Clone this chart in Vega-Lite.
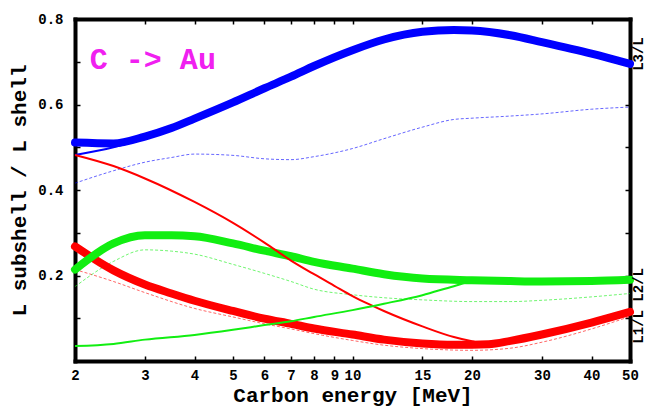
{
  "$schema": "https://vega.github.io/schema/vega-lite/v6.json",
  "width": 555,
  "height": 342,
  "autosize": {"type": "none"},
  "padding": {"left": 75, "top": 19, "right": 18, "bottom": 46},
  "background": "white",
  "view": {"stroke": null},
  "config": {
    "font": "Liberation Mono",
    "axis": {
      "labelFont": "Liberation Mono", "labelFontWeight": "bold", "labelFontSize": 14, "labelColor": "black",
      "titleFont": "Liberation Mono", "titleFontWeight": "bold", "titleFontSize": 21, "titleColor": "black",
      "domain": true, "domainColor": "black", "domainWidth": 4, "domainCap": "square",
      "grid": false, "tickColor": "black", "tickSize": -5, "tickWidth": 1.5
    }
  },
  "datasets": {
    "curves": [
      {"shell": "L3", "model": "A", "energy": 2, "ratio": 0.511},
      {"shell": "L3", "model": "A", "energy": 2.5, "ratio": 0.509},
      {"shell": "L3", "model": "A", "energy": 3, "ratio": 0.525},
      {"shell": "L3", "model": "A", "energy": 3.5, "ratio": 0.545},
      {"shell": "L3", "model": "A", "energy": 4, "ratio": 0.567},
      {"shell": "L3", "model": "A", "energy": 5, "ratio": 0.605},
      {"shell": "L3", "model": "A", "energy": 6, "ratio": 0.638},
      {"shell": "L3", "model": "A", "energy": 7, "ratio": 0.665},
      {"shell": "L3", "model": "A", "energy": 8, "ratio": 0.690},
      {"shell": "L3", "model": "A", "energy": 10, "ratio": 0.727},
      {"shell": "L3", "model": "A", "energy": 12, "ratio": 0.752},
      {"shell": "L3", "model": "A", "energy": 15, "ratio": 0.770},
      {"shell": "L3", "model": "A", "energy": 18, "ratio": 0.774},
      {"shell": "L3", "model": "A", "energy": 20, "ratio": 0.773},
      {"shell": "L3", "model": "A", "energy": 25, "ratio": 0.762},
      {"shell": "L3", "model": "A", "energy": 30, "ratio": 0.746},
      {"shell": "L3", "model": "A", "energy": 40, "ratio": 0.719},
      {"shell": "L3", "model": "A", "energy": 50, "ratio": 0.695},

      {"shell": "L3", "model": "B", "energy": 2, "ratio": 0.482},
      {"shell": "L3", "model": "B", "energy": 2.5, "ratio": 0.500},
      {"shell": "L3", "model": "B", "energy": 3, "ratio": 0.521},
      {"shell": "L3", "model": "B", "energy": 4, "ratio": 0.565},
      {"shell": "L3", "model": "B", "energy": 5, "ratio": 0.603},
      {"shell": "L3", "model": "B", "energy": 6, "ratio": 0.636},
      {"shell": "L3", "model": "B", "energy": 7, "ratio": 0.663},
      {"shell": "L3", "model": "B", "energy": 8, "ratio": 0.688},
      {"shell": "L3", "model": "B", "energy": 10, "ratio": 0.725},
      {"shell": "L3", "model": "B", "energy": 12, "ratio": 0.750},
      {"shell": "L3", "model": "B", "energy": 15, "ratio": 0.768},
      {"shell": "L3", "model": "B", "energy": 18, "ratio": 0.772},
      {"shell": "L3", "model": "B", "energy": 20, "ratio": 0.771},
      {"shell": "L3", "model": "B", "energy": 25, "ratio": 0.759},
      {"shell": "L3", "model": "B", "energy": 30, "ratio": 0.741},
      {"shell": "L3", "model": "B", "energy": 40, "ratio": 0.716},
      {"shell": "L3", "model": "B", "energy": 50, "ratio": 0.693},

      {"shell": "L3", "model": "C", "energy": 2, "ratio": 0.416},
      {"shell": "L3", "model": "C", "energy": 2.5, "ratio": 0.445},
      {"shell": "L3", "model": "C", "energy": 3, "ratio": 0.465},
      {"shell": "L3", "model": "C", "energy": 3.5, "ratio": 0.476},
      {"shell": "L3", "model": "C", "energy": 4, "ratio": 0.484},
      {"shell": "L3", "model": "C", "energy": 5, "ratio": 0.481},
      {"shell": "L3", "model": "C", "energy": 6, "ratio": 0.473},
      {"shell": "L3", "model": "C", "energy": 7, "ratio": 0.471},
      {"shell": "L3", "model": "C", "energy": 8, "ratio": 0.478},
      {"shell": "L3", "model": "C", "energy": 10, "ratio": 0.497},
      {"shell": "L3", "model": "C", "energy": 12, "ratio": 0.520},
      {"shell": "L3", "model": "C", "energy": 15, "ratio": 0.547},
      {"shell": "L3", "model": "C", "energy": 18, "ratio": 0.565},
      {"shell": "L3", "model": "C", "energy": 20, "ratio": 0.568},
      {"shell": "L3", "model": "C", "energy": 25, "ratio": 0.573},
      {"shell": "L3", "model": "C", "energy": 30, "ratio": 0.578},
      {"shell": "L3", "model": "C", "energy": 40, "ratio": 0.589},
      {"shell": "L3", "model": "C", "energy": 50, "ratio": 0.594},

      {"shell": "L1", "model": "A", "energy": 2, "ratio": 0.268},
      {"shell": "L1", "model": "A", "energy": 2.5, "ratio": 0.212},
      {"shell": "L1", "model": "A", "energy": 3, "ratio": 0.179},
      {"shell": "L1", "model": "A", "energy": 3.5, "ratio": 0.158},
      {"shell": "L1", "model": "A", "energy": 4, "ratio": 0.141},
      {"shell": "L1", "model": "A", "energy": 5, "ratio": 0.117},
      {"shell": "L1", "model": "A", "energy": 6, "ratio": 0.099},
      {"shell": "L1", "model": "A", "energy": 7, "ratio": 0.087},
      {"shell": "L1", "model": "A", "energy": 8, "ratio": 0.076},
      {"shell": "L1", "model": "A", "energy": 10, "ratio": 0.062},
      {"shell": "L1", "model": "A", "energy": 12, "ratio": 0.050},
      {"shell": "L1", "model": "A", "energy": 15, "ratio": 0.041},
      {"shell": "L1", "model": "A", "energy": 18, "ratio": 0.038},
      {"shell": "L1", "model": "A", "energy": 20, "ratio": 0.038},
      {"shell": "L1", "model": "A", "energy": 22, "ratio": 0.039},
      {"shell": "L1", "model": "A", "energy": 25, "ratio": 0.047},
      {"shell": "L1", "model": "A", "energy": 30, "ratio": 0.062},
      {"shell": "L1", "model": "A", "energy": 40, "ratio": 0.090},
      {"shell": "L1", "model": "A", "energy": 50, "ratio": 0.115},

      {"shell": "L1", "model": "B", "energy": 2, "ratio": 0.482},
      {"shell": "L1", "model": "B", "energy": 2.5, "ratio": 0.456},
      {"shell": "L1", "model": "B", "energy": 3, "ratio": 0.427},
      {"shell": "L1", "model": "B", "energy": 4, "ratio": 0.372},
      {"shell": "L1", "model": "B", "energy": 5, "ratio": 0.323},
      {"shell": "L1", "model": "B", "energy": 6, "ratio": 0.277},
      {"shell": "L1", "model": "B", "energy": 7, "ratio": 0.235},
      {"shell": "L1", "model": "B", "energy": 8, "ratio": 0.203},
      {"shell": "L1", "model": "B", "energy": 9, "ratio": 0.176},
      {"shell": "L1", "model": "B", "energy": 10, "ratio": 0.152},
      {"shell": "L1", "model": "B", "energy": 11, "ratio": 0.133},
      {"shell": "L1", "model": "B", "energy": 12, "ratio": 0.117},
      {"shell": "L1", "model": "B", "energy": 15, "ratio": 0.081},
      {"shell": "L1", "model": "B", "energy": 18, "ratio": 0.056},
      {"shell": "L1", "model": "B", "energy": 20, "ratio": 0.046},
      {"shell": "L1", "model": "B", "energy": 22, "ratio": 0.040},
      {"shell": "L1", "model": "B", "energy": 25, "ratio": 0.046},
      {"shell": "L1", "model": "B", "energy": 30, "ratio": 0.061},
      {"shell": "L1", "model": "B", "energy": 40, "ratio": 0.089},
      {"shell": "L1", "model": "B", "energy": 50, "ratio": 0.114},

      {"shell": "L1", "model": "C", "energy": 2, "ratio": 0.214},
      {"shell": "L1", "model": "C", "energy": 2.5, "ratio": 0.186},
      {"shell": "L1", "model": "C", "energy": 3, "ratio": 0.160},
      {"shell": "L1", "model": "C", "energy": 4, "ratio": 0.123},
      {"shell": "L1", "model": "C", "energy": 5, "ratio": 0.103},
      {"shell": "L1", "model": "C", "energy": 6, "ratio": 0.087},
      {"shell": "L1", "model": "C", "energy": 7, "ratio": 0.075},
      {"shell": "L1", "model": "C", "energy": 8, "ratio": 0.064},
      {"shell": "L1", "model": "C", "energy": 10, "ratio": 0.048},
      {"shell": "L1", "model": "C", "energy": 12, "ratio": 0.037},
      {"shell": "L1", "model": "C", "energy": 15, "ratio": 0.029},
      {"shell": "L1", "model": "C", "energy": 20, "ratio": 0.025},
      {"shell": "L1", "model": "C", "energy": 25, "ratio": 0.030},
      {"shell": "L1", "model": "C", "energy": 30, "ratio": 0.044},
      {"shell": "L1", "model": "C", "energy": 40, "ratio": 0.075},
      {"shell": "L1", "model": "C", "energy": 50, "ratio": 0.104},

      {"shell": "L2", "model": "A", "energy": 2, "ratio": 0.214},
      {"shell": "L2", "model": "A", "energy": 2.5, "ratio": 0.275},
      {"shell": "L2", "model": "A", "energy": 3, "ratio": 0.294},
      {"shell": "L2", "model": "A", "energy": 3.5, "ratio": 0.294},
      {"shell": "L2", "model": "A", "energy": 4, "ratio": 0.292},
      {"shell": "L2", "model": "A", "energy": 5, "ratio": 0.275},
      {"shell": "L2", "model": "A", "energy": 6, "ratio": 0.258},
      {"shell": "L2", "model": "A", "energy": 7, "ratio": 0.245},
      {"shell": "L2", "model": "A", "energy": 8, "ratio": 0.232},
      {"shell": "L2", "model": "A", "energy": 10, "ratio": 0.216},
      {"shell": "L2", "model": "A", "energy": 12, "ratio": 0.203},
      {"shell": "L2", "model": "A", "energy": 15, "ratio": 0.193},
      {"shell": "L2", "model": "A", "energy": 20, "ratio": 0.189},
      {"shell": "L2", "model": "A", "energy": 25, "ratio": 0.187},
      {"shell": "L2", "model": "A", "energy": 30, "ratio": 0.186},
      {"shell": "L2", "model": "A", "energy": 40, "ratio": 0.187},
      {"shell": "L2", "model": "A", "energy": 50, "ratio": 0.190},

      {"shell": "L2", "model": "B", "energy": 2, "ratio": 0.035},
      {"shell": "L2", "model": "B", "energy": 2.5, "ratio": 0.040},
      {"shell": "L2", "model": "B", "energy": 3, "ratio": 0.050},
      {"shell": "L2", "model": "B", "energy": 4, "ratio": 0.061},
      {"shell": "L2", "model": "B", "energy": 5, "ratio": 0.073},
      {"shell": "L2", "model": "B", "energy": 6, "ratio": 0.084},
      {"shell": "L2", "model": "B", "energy": 7, "ratio": 0.093},
      {"shell": "L2", "model": "B", "energy": 8, "ratio": 0.103},
      {"shell": "L2", "model": "B", "energy": 10, "ratio": 0.119},
      {"shell": "L2", "model": "B", "energy": 12, "ratio": 0.134},
      {"shell": "L2", "model": "B", "energy": 15, "ratio": 0.154},
      {"shell": "L2", "model": "B", "energy": 18, "ratio": 0.175},
      {"shell": "L2", "model": "B", "energy": 20, "ratio": 0.186},
      {"shell": "L2", "model": "B", "energy": 25, "ratio": 0.190},
      {"shell": "L2", "model": "B", "energy": 30, "ratio": 0.190},
      {"shell": "L2", "model": "B", "energy": 40, "ratio": 0.190},
      {"shell": "L2", "model": "B", "energy": 50, "ratio": 0.192},

      {"shell": "L2", "model": "C", "energy": 2, "ratio": 0.174},
      {"shell": "L2", "model": "C", "energy": 2.5, "ratio": 0.233},
      {"shell": "L2", "model": "C", "energy": 3, "ratio": 0.260},
      {"shell": "L2", "model": "C", "energy": 3.5, "ratio": 0.257},
      {"shell": "L2", "model": "C", "energy": 4, "ratio": 0.250},
      {"shell": "L2", "model": "C", "energy": 5, "ratio": 0.226},
      {"shell": "L2", "model": "C", "energy": 6, "ratio": 0.205},
      {"shell": "L2", "model": "C", "energy": 7, "ratio": 0.186},
      {"shell": "L2", "model": "C", "energy": 8, "ratio": 0.168},
      {"shell": "L2", "model": "C", "energy": 10, "ratio": 0.155},
      {"shell": "L2", "model": "C", "energy": 12, "ratio": 0.148},
      {"shell": "L2", "model": "C", "energy": 15, "ratio": 0.143},
      {"shell": "L2", "model": "C", "energy": 20, "ratio": 0.139},
      {"shell": "L2", "model": "C", "energy": 25, "ratio": 0.139},
      {"shell": "L2", "model": "C", "energy": 30, "ratio": 0.142},
      {"shell": "L2", "model": "C", "energy": 40, "ratio": 0.150},
      {"shell": "L2", "model": "C", "energy": 50, "ratio": 0.158}
    ],
    "title": [
      {"label": "C -> Au", "energy": 2.18, "ratio": 0.682}
    ],
    "side": [
      {"label": "L3/L", "energy": 50, "ratio": 0.718},
      {"label": "L1/L L2/L", "energy": 50, "ratio": 0.129}
    ]
  },
  "layer": [
    {
      "data": {"name": "curves"},
      "transform": [{"filter": "datum.model === 'C'"}],
      "mark": {"type": "line", "strokeWidth": 1, "strokeDash": [3, 2], "opacity": 0.6, "interpolate": "monotone"},
      "encoding": {
        "x": {"field": "energy", "type": "quantitative", "scale": {"type": "log", "domain": [2, 50], "nice": false},
              "axis": {"orient": "bottom", "title": "Carbon energy [MeV]", "values": [2, 3, 4, 5, 6, 7, 8, 9, 10, 15, 20, 30, 40, 50],
                       "format": "d", "labelPadding": 12, "titlePadding": 2, "labelFlush": false, "labelOverlap": false}},
        "y": {"field": "ratio", "type": "quantitative", "scale": {"domain": [0, 0.8], "nice": false, "zero": false},
              "axis": {"orient": "left", "title": "L subshell / L shell", "values": [0.1, 0.2, 0.3, 0.4, 0.5, 0.6, 0.7, 0.8],
                       "labelExpr": "abs(datum.value * 10 % 2) < 0.01 || abs(datum.value * 10 % 2) > 1.99 ? format(datum.value, '.1f') : ''",
                       "labelPadding": 17, "titlePadding": 8, "labelFlush": false, "labelOverlap": false}},
        "color": {"field": "shell", "type": "nominal", "scale": {"domain": ["L1", "L2", "L3"], "range": ["#ff0000", "#11ee11", "#0000ff"]}, "legend": null}
      }
    },
    {
      "data": {"name": "curves"},
      "transform": [{"filter": "datum.model === 'A'"}],
      "mark": {"type": "line", "strokeWidth": 8, "interpolate": "monotone", "strokeCap": "round"},
      "encoding": {
        "x": {"field": "energy", "type": "quantitative", "scale": {"type": "log"}, "axis": null},
        "y": {"field": "ratio", "type": "quantitative", "axis": null},
        "color": {"field": "shell", "type": "nominal", "legend": null}
      }
    },
    {
      "data": {"name": "curves"},
      "transform": [{"filter": "datum.model === 'B'"}],
      "mark": {"type": "line", "strokeWidth": 2, "interpolate": "monotone"},
      "encoding": {
        "x": {"field": "energy", "type": "quantitative", "scale": {"type": "log"}, "axis": null},
        "y": {"field": "ratio", "type": "quantitative", "axis": null},
        "color": {"field": "shell", "type": "nominal", "legend": null}
      }
    },
    {
      "data": {"name": "title"},
      "mark": {"type": "text", "font": "Liberation Mono", "fontWeight": "bold", "fontSize": 30, "color": "#f020f0", "align": "left", "baseline": "alphabetic"},
      "encoding": {
        "x": {"field": "energy", "type": "quantitative", "scale": {"type": "log"},
              "axis": {"orient": "top", "title": null, "labels": false, "values": [2, 3, 4, 5, 6, 7, 8, 9, 10, 15, 20, 30, 40, 50]}},
        "y": {"field": "ratio", "type": "quantitative",
              "axis": {"orient": "right", "title": null, "labels": false, "values": [0.1, 0.2, 0.3, 0.4, 0.5, 0.6, 0.7, 0.8]}},
        "text": {"field": "label"}
      }
    },
    {
      "data": {"name": "side"},
      "mark": {"type": "text", "font": "Liberation Mono", "fontWeight": "bold", "fontSize": 14, "color": "black", "angle": 270, "align": "center", "baseline": "middle", "dy": 9},
      "encoding": {
        "x": {"field": "energy", "type": "quantitative", "scale": {"type": "log"}, "axis": null},
        "y": {"field": "ratio", "type": "quantitative", "axis": null},
        "text": {"field": "label"}
      }
    }
  ],
  "resolve": {"axis": {"x": "independent", "y": "independent"}}
}
